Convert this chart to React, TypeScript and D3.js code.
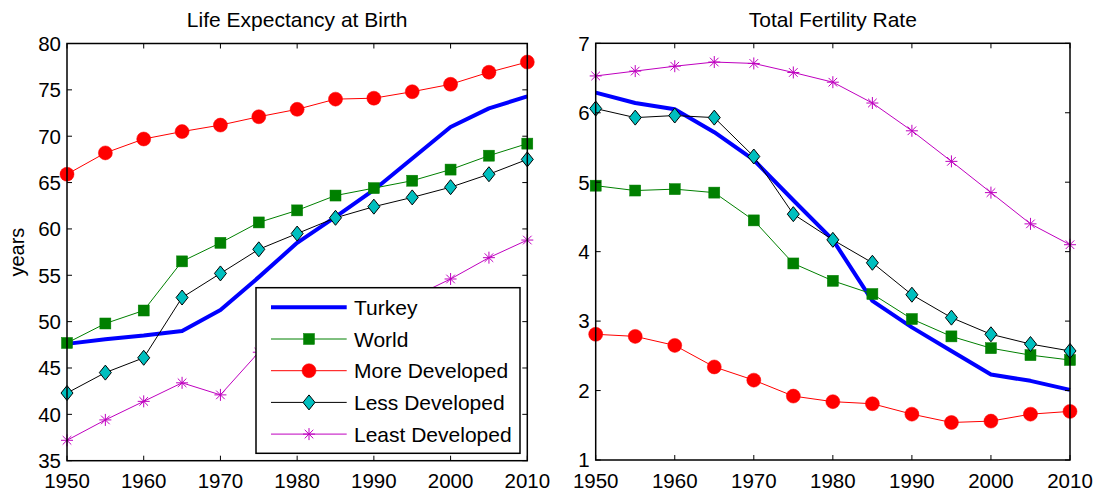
import React from 'react';
import * as d3 from 'd3';

const years = [1950, 1955, 1960, 1965, 1970, 1975, 1980, 1985, 1990, 1995, 2000, 2005, 2010];
const xTicks = [1950, 1960, 1970, 1980, 1990, 2000, 2010];

// life expectancy at birth (years)
const leTurkey = [47.6, 48.1, 48.5, 49.0, 51.25, 54.8, 58.5, 61.3, 64.2, 67.6, 71.0, 73.0, 74.3];
const leWorld = [47.7, 49.8, 51.2, 56.5, 58.5, 60.7, 62.0, 63.6, 64.4, 65.2, 66.4, 67.9, 69.2];
const leMore = [65.9, 68.2, 69.7, 70.5, 71.2, 72.1, 72.9, 74.0, 74.1, 74.8, 75.6, 76.9, 78.0];
const leLess = [42.3, 44.5, 46.1, 52.6, 55.2, 57.8, 59.5, 61.2, 62.4, 63.4, 64.5, 65.9, 67.5];
const leLeast = [37.2, 39.4, 41.4, 43.4, 42.1, 46.7, 48.3, 49.8, 51.0, 52.6, 54.6, 56.9, 58.8];
const leTicks = [35, 40, 45, 50, 55, 60, 65, 70, 75, 80];

// total fertility rate
const tfrTurkey = [6.29, 6.14, 6.05, 5.72, 5.32, 4.74, 4.17, 3.29, 2.91, 2.57, 2.23, 2.14, 2.01];
const tfrWorld = [4.95, 4.88, 4.9, 4.85, 4.45, 3.83, 3.58, 3.39, 3.03, 2.78, 2.61, 2.51, 2.44];
const tfrMore = [2.81, 2.78, 2.65, 2.34, 2.15, 1.92, 1.84, 1.81, 1.66, 1.54, 1.56, 1.66, 1.7];
const tfrLess = [6.06, 5.93, 5.96, 5.93, 5.37, 4.54, 4.17, 3.84, 3.38, 3.05, 2.81, 2.67, 2.57];
const tfrLeast = [6.53, 6.6, 6.67, 6.73, 6.71, 6.58, 6.44, 6.14, 5.74, 5.3, 4.85, 4.4, 4.1];
const tfrTicks = [1, 2, 3, 4, 5, 6, 7];

const seriesNames = ['Turkey', 'World', 'More Developed', 'Less Developed', 'Least Developed'];

type Marker = 'none' | 'square' | 'circle' | 'diamond' | 'star';
interface Style { line: string; width: number; marker: Marker; fill: string; edge: string; }

const styles: Style[] = [
  { line: '#0000ff', width: 4, marker: 'none', fill: 'none', edge: 'none' },
  { line: '#008000', width: 1, marker: 'square', fill: '#008000', edge: '#008000' },
  { line: '#ff0000', width: 1, marker: 'circle', fill: '#ff0000', edge: '#ff0000' },
  { line: '#000000', width: 1, marker: 'diamond', fill: '#00bfbf', edge: '#000000' },
  { line: '#bf00bf', width: 1, marker: 'star', fill: 'none', edge: '#bf00bf' },
];

const FONT = '"Liberation Sans", Arial, Helvetica, sans-serif';

const MarkerShape: React.FC<{ kind: Marker; x: number; y: number; s: Style }> = ({ kind, x, y, s }) => {
  if (kind === 'square') return <rect x={x - 5.5} y={y - 5.5} width={11} height={11} fill={s.fill} stroke={s.edge} strokeWidth={0.5} />;
  if (kind === 'circle') return <circle cx={x} cy={y} r={7} fill={s.fill} stroke={s.edge} strokeWidth={0.5} />;
  if (kind === 'diamond') {
    const d = `M${x},${y - 7.5}L${x + 6},${y}L${x},${y + 7.5}L${x - 6},${y}Z`;
    return <path d={d} fill={s.fill} stroke={s.edge} strokeWidth={1} />;
  }
  if (kind === 'star') {
    const r = 6, q = 4.3;
    const d = `M${x - r},${y}L${x + r},${y}M${x},${y - r}L${x},${y + r}M${x - q},${y - q}L${x + q},${y + q}M${x - q},${y + q}L${x + q},${y - q}`;
    return <path d={d} stroke={s.edge} strokeWidth={1} fill="none" />;
  }
  return null;
};

interface PanelProps {
  left: number; right: number; top: number; bottom: number;
  title: string; domain: [number, number]; yTicks: number[];
  data: number[][]; ylabel?: string; legend?: boolean;
}

const Panel: React.FC<PanelProps> = ({ left, right, top, bottom, title, domain, yTicks, data, ylabel, legend }) => {
  const x = d3.scaleLinear().domain([1950, 2010]).range([left, right]);
  const y = d3.scaleLinear().domain(domain).range([bottom, top]);
  const tick = 5;
  const line = d3.line<number>().x((_, i) => x(years[i])).y(v => y(v));

  // legend geometry
  const lg = { x: left + 189, y: 287.7, w: 264, h: 165.6, row: 31.7 };

  return (
    <g>
      <text x={(left + right) / 2} y={26.5} textAnchor="middle" fontSize={21} fontFamily={FONT} fill="#000">{title}</text>
      {ylabel && (
        <text transform={`translate(24,${(top + bottom) / 2}) rotate(-90)`} textAnchor="middle" fontSize={20} fontFamily={FONT}>{ylabel}</text>
      )}
      {data.map((vals, k) => (
        <g key={k}>
          <path d={line(vals) ?? ''} fill="none" stroke={styles[k].line} strokeWidth={styles[k].width} strokeLinejoin="round" />
          {vals.map((v, i) => (
            <MarkerShape key={i} kind={styles[k].marker} x={x(years[i])} y={y(v)} s={styles[k]} />
          ))}
        </g>
      ))}
      {/* ticks */}
      {xTicks.map(t => (
        <g key={t}>
          <line x1={x(t)} x2={x(t)} y1={bottom} y2={bottom - tick} stroke="#000" strokeWidth={1} />
          <line x1={x(t)} x2={x(t)} y1={top} y2={top + tick} stroke="#000" strokeWidth={1} />
          <text x={x(t)} y={487.5} textAnchor="middle" fontSize={20.5} fontFamily={FONT}>{t}</text>
        </g>
      ))}
      {yTicks.map(t => (
        <g key={t}>
          <line x1={left} x2={left + tick} y1={y(t)} y2={y(t)} stroke="#000" strokeWidth={1} />
          <line x1={right} x2={right - tick} y1={y(t)} y2={y(t)} stroke="#000" strokeWidth={1} />
          <text x={left - 6} y={y(t)} dy="0.36em" textAnchor="end" fontSize={20.5} fontFamily={FONT}>{t}</text>
        </g>
      ))}
      <rect x={left} y={top} width={right - left} height={bottom - top} fill="none" stroke="#000" strokeWidth={1.5} />
      {legend && (
        <g>
          <rect x={lg.x} y={lg.y} width={lg.w} height={lg.h} fill="#fff" stroke="#000" strokeWidth={1.5} />
          {seriesNames.map((name, k) => {
            const cy = lg.y + 19.6 + k * lg.row;
            return (
              <g key={name}>
                <line x1={lg.x + 15} x2={lg.x + 90.7} y1={cy} y2={cy} stroke={styles[k].line} strokeWidth={styles[k].width} />
                <MarkerShape kind={styles[k].marker} x={lg.x + 53} y={cy} s={styles[k]} />
                <text x={lg.x + 98} y={cy} dy="0.36em" fontSize={21} fontFamily={FONT}>{name}</text>
              </g>
            );
          })}
        </g>
      )}
    </g>
  );
};

export default function App() {
  return (
    <svg width={1098} height={492} style={{ position: 'absolute', left: 0, top: 0, background: '#fff' }}>
      <Panel left={67} right={527.3} top={43.5} bottom={460.7} title="Life Expectancy at Birth"
        domain={[35, 80]} yTicks={leTicks} data={[leTurkey, leWorld, leMore, leLess, leLeast]} ylabel="years" legend />
      <Panel left={595.7} right={1070} top={43.3} bottom={460} title="Total Fertility Rate"
        domain={[1, 7]} yTicks={tfrTicks} data={[tfrTurkey, tfrWorld, tfrMore, tfrLess, tfrLeast]} />
    </svg>
  );
}
